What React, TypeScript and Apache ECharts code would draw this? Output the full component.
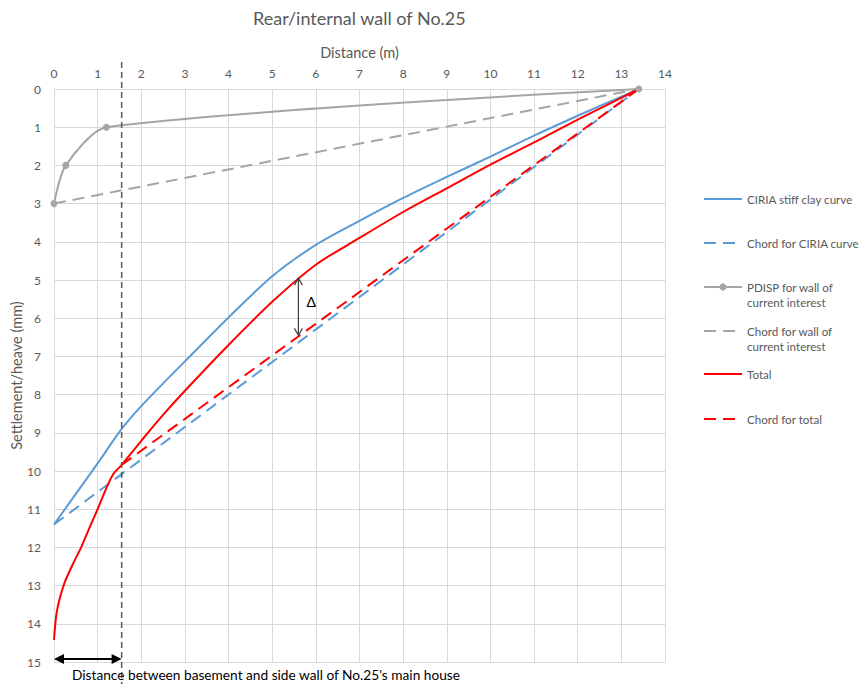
import React, { useEffect, useRef } from "react";
import * as echarts from "echarts";

// ---------- data ----------
const ciriaX = [0, 0.5, 1, 1.55, 2, 3, 4, 5, 6, 7, 8, 9, 10, 11, 12, 13, 13.4];
const ciriaY = [11.4, 10.6, 9.8, 8.9, 8.3, 7.13, 5.98, 4.9, 4.08, 3.45, 2.85, 2.3, 1.77, 1.22, 0.7, 0.2, 0];

const ciriaChordX = [0, 13.4];
const ciriaChordY = [11.4, 0];

const pdispX = [0, 0.27, 1.2, 13.4];
const pdispY = [3, 2, 1, 0];

const wallChordX = [0, 13.4];
const wallChordY = [3, 0];

const totalX = [0, 0.03, 0.07, 0.14, 0.25, 0.44, 0.63, 0.8, 1.0, 1.2, 1.36, 1.55, 2, 2.43, 3, 4, 5, 6, 7, 8, 9, 10, 11, 12, 13, 13.4];
const totalY = [14.42, 14.0, 13.65, 13.3, 12.9, 12.42, 11.98, 11.52, 11.0, 10.45, 10.08, 9.84, 9.21, 8.62, 7.9, 6.7, 5.57, 4.6, 3.9, 3.22, 2.6, 1.98, 1.4, 0.8, 0.23, 0];

const totalChordX = [1.55, 13.4];
const totalChordY = [9.84, 0];

const seriesNames = [
  "CIRIA stiff clay curve",
  "Chord for CIRIA curve",
  "PDISP for wall of current interest",
  "Chord for wall of current interest",
  "Total",
  "Chord for total",
];
const legendLabels = [
  "CIRIA stiff clay curve",
  "Chord for CIRIA curve",
  "PDISP for wall of\ncurrent interest",
  "Chord for wall of\ncurrent interest",
  "Total",
  "Chord for total",
];

const xMin = 0, xMax = 14, xStep = 1;
const yMin = 0, yMax = 15, yStep = 1;

// annotations (data coordinates)
const basementWallX = 1.55;
const bottomArrowY = 14.92;
const deltaX = 5.6;
const deltaTopY = 4.95;
const deltaBottomY = 6.45;
const titleText = "Rear/internal wall of No.25";
const bottomNote = "Distance between basement and side wall of No.25's main house";

const zip = (xs: number[], ys: number[]) => xs.map((x, i) => [x, ys[i]]);

const FONT = "Lato, 'Open Sans', sans-serif";
const TXT = "#595959";
const BLUE = "#5B9BD5";
const GRAY = "#A5A5A5";
const RED = "#FF0000";
const DASH = [12, 7];

export default function App() {
  const ref = useRef<HTMLDivElement>(null);
  useEffect(() => {
    if (!ref.current) return;
    const chart = echarts.init(ref.current, undefined, { renderer: "svg" });

    const LH = 15.5;
    const legendCenters = [199, 243, 287, 331, 374, 419];
    const legends = seriesNames.map((name, i) => {
      const twoLine = legendLabels[i].includes("\n");
      const withMarker = i === 2;
      // two-line labels get an empty leading line so the icon sits on the first text line
      const label = twoLine ? "\n" + legendLabels[i] : legendLabels[i];
      return {
        data: [name],
        orient: "vertical",
        left: 703,
        top: twoLine ? legendCenters[i] - 1.5 * LH : legendCenters[i] - LH / 2,
        padding: 0,
        itemWidth: 38,
        itemHeight: withMarker ? 9 : 12,
        itemGap: 0,
        formatter: () => label,
        itemStyle: withMarker ? {} : { opacity: 0 },
        textStyle: {
          color: TXT,
          fontSize: 11.6,
          fontFamily: FONT,
          lineHeight: LH,
        },
      };
    });

    const lineSeries = (name: string, data: number[][], color: string, dashed: boolean, smooth: any, extra: any = {}) => ({
      name,
      type: "line",
      data,
      smooth,
      symbol: "none",
      lineStyle: { color, width: 2, type: dashed ? DASH : "solid" },
      itemStyle: { color },
      ...extra,
    });

    chart.setOption({
      animation: false,
      textStyle: { fontFamily: FONT },
      title: {
        text: titleText,
        left: 248,
        top: 4,
        textStyle: { color: TXT, fontSize: 18, fontWeight: "normal", fontFamily: FONT },
      },
      legend: legends,
      grid: { left: 54, top: 89, right: 197, bottom: 22, containLabel: false, outerBoundsMode: "none" },
      xAxis: {
        type: "value",
        position: "top",
        min: xMin,
        max: xMax,
        interval: xStep,
        name: "Distance (m)",
        nameLocation: "middle",
        nameGap: 29,
        nameTextStyle: { color: TXT, fontSize: 14.5, fontFamily: FONT },
        axisLine: { show: true, lineStyle: { color: "#D9D9D9" } },
        axisTick: { show: false },
        axisLabel: { color: TXT, fontSize: 12, margin: 10, fontFamily: FONT },
        splitLine: { show: true, lineStyle: { color: "#D9D9D9" } },
      },
      yAxis: {
        type: "value",
        inverse: true,
        min: yMin,
        max: yMax,
        interval: yStep,
        name: "Settlement/heave (mm)",
        nameLocation: "middle",
        nameGap: 30,
        nameMoveOverlap: false,
        nameTextStyle: { color: TXT, fontSize: 14.5, fontFamily: FONT },
        axisLine: { show: true, lineStyle: { color: "#D9D9D9" } },
        axisTick: { show: false },
        axisLabel: { color: TXT, fontSize: 12, margin: 13, fontFamily: FONT },
        splitLine: { show: true, lineStyle: { color: "#D9D9D9" } },
      },
      series: [
        lineSeries(seriesNames[0], zip(ciriaX, ciriaY), BLUE, false, 0.3),
        lineSeries(seriesNames[1], zip(ciriaChordX, ciriaChordY), BLUE, true, false),
        lineSeries(seriesNames[2], zip(pdispX, pdispY), GRAY, false, 0.25, {
          symbol: "circle",
          symbolSize: 7,
          showSymbol: true,
        }),
        lineSeries(seriesNames[3], zip(wallChordX, wallChordY), GRAY, true, false),
        lineSeries(seriesNames[4], zip(totalX, totalY), RED, false, 0.3),
        lineSeries(seriesNames[5], zip(totalChordX, totalChordY), RED, true, false),
      ],
    });

    const px = (x: number, y: number) => chart.convertToPixel({ gridIndex: 0 }, [x, y]) as number[];
    const [wallPx, plotTop] = px(basementWallX, yMin);
    const [, plotBottom] = px(basementWallX, yMax);
    const [x0, arrowY] = px(xMin, bottomArrowY);
    const [dx, dTop] = px(deltaX, deltaTopY);
    const [, dBot] = px(deltaX, deltaBottomY);
    const H = chart.getHeight();

    chart.setOption({
      graphic: [
        {
          type: "line",
          shape: { x1: wallPx, y1: plotTop - 27, x2: wallPx, y2: H },
          style: { stroke: "#595959", lineWidth: 1.5, lineDash: [6, 4] },
          z: 10,
        },
        {
          type: "line",
          shape: { x1: x0 + 6, y1: arrowY, x2: wallPx - 6, y2: arrowY },
          style: { stroke: "#000", lineWidth: 2 },
          z: 10,
        },
        {
          type: "polygon",
          shape: { points: [[x0, arrowY], [x0 + 10, arrowY - 5], [x0 + 10, arrowY + 5]] },
          style: { fill: "#000" },
          z: 10,
        },
        {
          type: "polygon",
          shape: { points: [[wallPx, arrowY], [wallPx - 10, arrowY - 5], [wallPx - 10, arrowY + 5]] },
          style: { fill: "#000" },
          z: 10,
        },
        {
          type: "text",
          x: x0 + 18,
          y: plotBottom + 12,
          style: { text: bottomNote, fill: "#000", fontSize: 13.7, fontFamily: FONT, align: "left", verticalAlign: "middle" },
          z: 10,
        },
        {
          type: "line",
          shape: { x1: dx, y1: dTop, x2: dx, y2: dBot },
          style: { stroke: "#404040", lineWidth: 1.2 },
          z: 10,
        },
        {
          type: "polyline",
          shape: { points: [[dx - 4, dTop + 7], [dx, dTop], [dx + 4, dTop + 7]] },
          style: { stroke: "#404040", lineWidth: 1.2, fill: null },
          z: 10,
        },
        {
          type: "polyline",
          shape: { points: [[dx - 4, dBot - 7], [dx, dBot], [dx + 4, dBot - 7]] },
          style: { stroke: "#404040", lineWidth: 1.2, fill: null },
          z: 10,
        },
        {
          type: "text",
          x: dx + 8,
          y: (dTop + dBot) / 2 - 5,
          style: { text: "Δ", fill: "#000", fontSize: 14, fontFamily: FONT, align: "left", verticalAlign: "middle" },
          z: 10,
        },
      ],
    });

    return () => chart.dispose();
  }, []);

  return <div ref={ref} style={{ width: 862, height: 684, position: "absolute", left: 0, top: 0, background: "#fff" }} />;
}
